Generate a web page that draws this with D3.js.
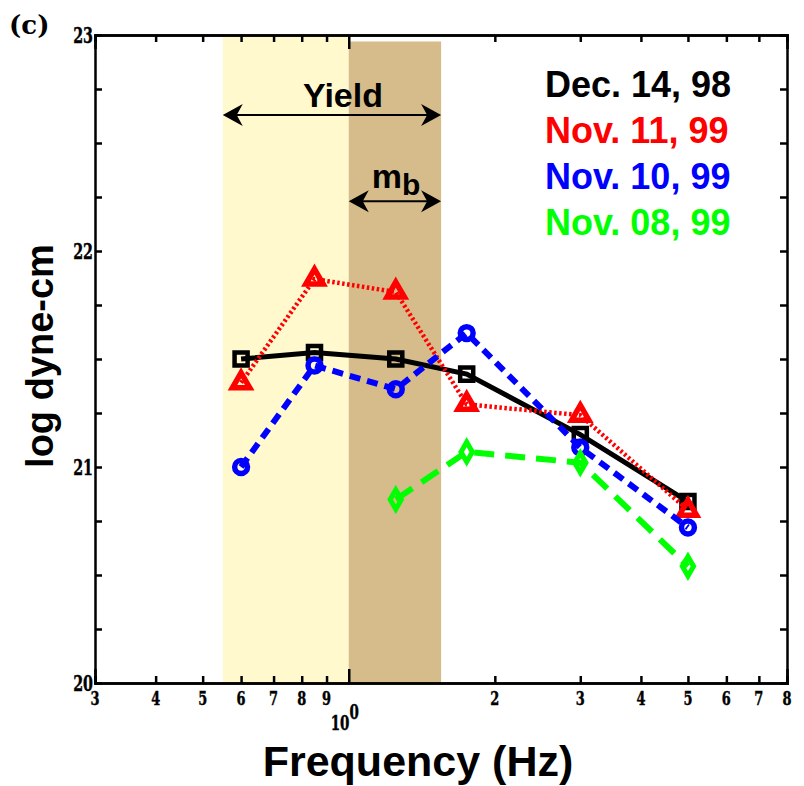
<!DOCTYPE html>
<html>
<head>
<meta charset="utf-8">
<script src="https://cdn.jsdelivr.net/npm/d3@7"></script>
<style>
  body { margin: 0; background: #fff; }
  svg { display: block; }
</style>
</head>
<body>
<div id="chart"></div>
<script>
// frequencies (Hz) of the measurements
var freqs = [0.6, 0.85, 1.25, 1.75, 3.0, 5.0];

// log moment per event
var dec1498 = [21.50, 21.53, 21.50, 21.43, 21.15, 20.84];
var nov1199 = [21.39, 21.87, 21.81, 21.29, 21.24, 20.80];
var nov1099 = [21.00, 21.47, 21.36, 21.62, 21.09, 20.72];
var nov0899 = [null, null, 20.85, 21.07, 21.02, 20.54];

var seriesNames = ["Dec. 14, 98", "Nov. 11, 99", "Nov. 10, 99", "Nov. 08, 99"];

// tick labels
var xMinorTicks = [0.3, 0.4, 0.5, 0.6, 0.7, 0.8, 0.9, 2, 3, 4, 5, 6, 7, 8];
var yMajorTicks = [20, 21, 22, 23];
var yMinorTicks = d3.range(20, 23.01, 0.25);

// bands: yield and mb
var yieldBand = [0.55, 1.0];
var mbBand = [1.0, 1.55];

var width = 804, height = 786;
var margin = { top: 35, right: 17, bottom: 103, left: 95 };

var svg = d3.select("#chart").append("svg")
    .attr("width", width)
    .attr("height", height);

var x = d3.scaleLog().domain([0.3, 8]).range([margin.left, width - margin.right]);
var y = d3.scaleLinear().domain([20, 23]).range([height - margin.bottom, margin.top]);

// background bands
svg.append("rect")
    .attr("x", x(yieldBand[0]))
    .attr("y", y(23))
    .attr("width", x(yieldBand[1]) - x(yieldBand[0]))
    .attr("height", y(20) - y(23))
    .style("fill", "#fff9cd");
svg.append("rect")
    .attr("x", x(mbBand[0]))
    .attr("y", y(22.97))
    .attr("width", x(mbBand[1]) - x(mbBand[0]))
    .attr("height", y(20) - y(22.97))
    .style("fill", "#d7bc8b");

// axes (ticks inward)
var x0 = x.range()[0], x1 = x.range()[1], y0 = y.range()[0], y1 = y.range()[1];

svg.append("g").attr("transform", "translate(0," + y0 + ")")
    .call(d3.axisBottom(x).tickValues(xMinorTicks).tickSize(-7).tickFormat(""));
svg.append("g").attr("transform", "translate(0," + y0 + ")")
    .call(d3.axisBottom(x).tickValues([1]).tickSize(-14).tickFormat(""));
svg.append("g").attr("transform", "translate(0," + y1 + ")")
    .call(d3.axisTop(x).tickValues(xMinorTicks).tickSize(-7).tickFormat(""));
svg.append("g").attr("transform", "translate(0," + y1 + ")")
    .call(d3.axisTop(x).tickValues([1]).tickSize(-14).tickFormat(""));
svg.append("g").attr("transform", "translate(" + x0 + ",0)")
    .call(d3.axisLeft(y).tickValues(yMinorTicks).tickSize(-7).tickFormat(""));
svg.append("g").attr("transform", "translate(" + x1 + ",0)")
    .call(d3.axisRight(y).tickValues(yMinorTicks).tickSize(-7).tickFormat(""));

svg.selectAll(".domain, .tick line")
    .style("stroke", "#000")
    .style("stroke-width", 2.5);

// tick labels, condensed heavy serif
var tickFont = "'DejaVu Serif Condensed', 'DejaVu Serif', serif";
svg.selectAll(".xlab")
    .data(xMinorTicks.filter(function(d) { return d !== 1; }))
    .enter().append("text")
    .attr("transform", function(d) { return "translate(" + x(d) + "," + (y0 + 22) + ") scale(0.8,1)"; })
    .attr("text-anchor", "middle")
    .style("font-family", tickFont).style("font-weight", "bold").style("font-size", "18px")
    .style("stroke", "#000").style("stroke-width", 0.4)
    .text(function(d) { return d < 1 ? Math.round(d * 10) : d; });

var tenLab = svg.append("text")
    .attr("transform", "translate(" + (x(1) - 4) + "," + (y0 + 47) + ") scale(0.75,1)")
    .attr("text-anchor", "middle")
    .style("font-family", tickFont).style("font-weight", "bold").style("font-size", "20px")
    .style("stroke", "#000").style("stroke-width", 0.4);
tenLab.append("tspan").text("10");
tenLab.append("tspan").attr("dy", -11).style("font-size", "20px").text("0");

svg.selectAll(".ylab")
    .data(yMajorTicks)
    .enter().append("text")
    .attr("transform", function(d) { return "translate(" + (x0 - 2) + "," + (y(d) + 8) + ") scale(0.72,1)"; })
    .attr("text-anchor", "end")
    .style("font-family", tickFont).style("font-weight", "bold").style("font-size", "22px")
    .style("stroke", "#000").style("stroke-width", 0.4)
    .text(function(d) { return d; });

// axis titles
var sansFont = "'Liberation Sans', Arial, sans-serif";
svg.append("text")
    .attr("x", 418)
    .attr("y", 776)
    .attr("text-anchor", "middle")
    .style("font-family", sansFont).style("font-weight", "bold").style("font-size", "43px")
    .text("Frequency (Hz)");

svg.append("text")
    .attr("transform", "translate(53,356) rotate(-90)")
    .attr("text-anchor", "middle")
    .style("font-family", sansFont).style("font-weight", "bold").style("font-size", "38px")
    .text("log dyne-cm");

svg.append("text")
    .attr("x", 9).attr("y", 34)
    .style("font-family", "'DejaVu Serif', serif").style("font-weight", "bold").style("font-size", "26px")
    .text("(c)");

// band arrows
function arrow(fa, fb, v) {
    var ya = y(v), xa = x(fa), xb = x(fb);
    svg.append("line")
        .attr("x1", xa + 10).attr("x2", xb - 10)
        .attr("y1", ya).attr("y2", ya)
        .style("stroke", "#000").style("stroke-width", 2);
    svg.append("path")
        .attr("d", "M" + xa + "," + ya + "L" + (xa + 20) + "," + (ya - 11) + "L" + (xa + 14) + "," + ya + "L" + (xa + 20) + "," + (ya + 11) + "Z")
        .style("fill", "#000");
    svg.append("path")
        .attr("d", "M" + xb + "," + ya + "L" + (xb - 20) + "," + (ya - 11) + "L" + (xb - 14) + "," + ya + "L" + (xb - 20) + "," + (ya + 11) + "Z")
        .style("fill", "#000");
}
arrow(yieldBand[0], mbBand[1], 22.63);
arrow(mbBand[0], mbBand[1], 22.23);

svg.append("text")
    .attr("x", 343)
    .attr("y", 107)
    .attr("text-anchor", "middle")
    .style("font-family", sansFont).style("font-weight", "bold").style("font-size", "34px")
    .text("Yield");

var mbLab = svg.append("text")
    .attr("x", 396)
    .attr("y", 188)
    .attr("text-anchor", "middle")
    .style("font-family", sansFont).style("font-weight", "bold").style("font-size", "34px");
mbLab.append("tspan").text("m");
mbLab.append("tspan").attr("dy", 7).style("font-size", "30px").text("b");

// series
var series = [
    { name: seriesNames[0], values: dec1498, color: "#000000", dash: null, width: 5, symbol: d3.symbolSquare, size: 170, sw: 4.5 },
    { name: seriesNames[1], values: nov1199, color: "#ff0000", dash: "2.5,2.5", width: 4.5, symbol: d3.symbolTriangle, size: 130, sw: 5.5 },
    { name: seriesNames[2], values: nov1099, color: "#0000ff", dash: "11,7", width: 6, symbol: d3.symbolCircle, size: 130, sw: 5.5 },
    { name: seriesNames[3], values: nov0899, color: "#00ff00", dash: "20,11", width: 6, symbol: d3.symbolDiamond, size: 110, sw: 5 }
];

var line = d3.line()
    .defined(function(d) { return d[1] !== null; })
    .x(function(d) { return x(d[0]); })
    .y(function(d) { return y(d[1]); });

series.forEach(function(s) {
    var pts = freqs.map(function(f, i) { return [f, s.values[i]]; });
    svg.append("path")
        .datum(pts)
        .attr("d", line)
        .style("fill", "none")
        .style("stroke", s.color)
        .style("stroke-width", s.width)
        .style("stroke-dasharray", s.dash);
    svg.selectAll(null)
        .data(pts.filter(function(d) { return d[1] !== null; }))
        .enter().append("path")
        .attr("transform", function(d) { return "translate(" + x(d[0]) + "," + y(d[1]) + ")"; })
        .attr("d", d3.symbol().type(s.symbol).size(s.size))
        .style("fill", "none")
        .style("stroke", s.color)
        .style("stroke-width", s.sw);
});

// legend
svg.selectAll(".legend")
    .data(series)
    .enter().append("text")
    .attr("x", 545)
    .attr("y", function(d, i) { return 97 + i * 46; })
    .style("font-family", sansFont).style("font-weight", "bold").style("font-size", "36px")
    .style("fill", function(d) { return d.color; })
    .text(function(d) { return d.name; });
</script>
</body>
</html>
